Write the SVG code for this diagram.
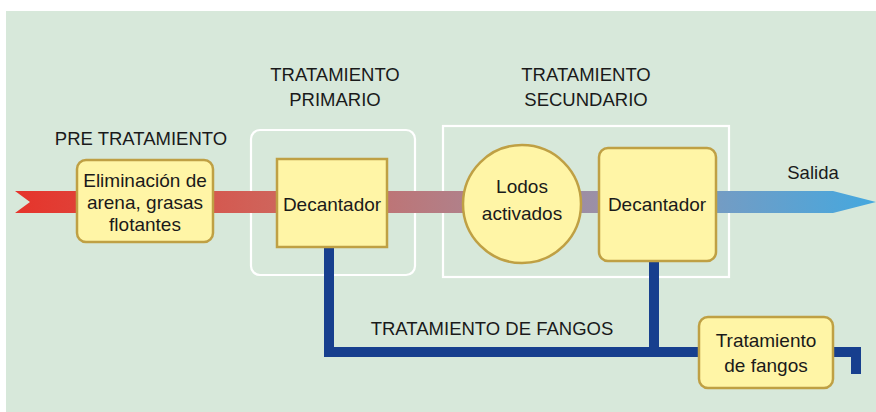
<svg xmlns="http://www.w3.org/2000/svg" width="876" height="412" viewBox="0 0 876 412">
<defs>
<linearGradient id="flow" x1="15" y1="0" x2="876" y2="0" gradientUnits="userSpaceOnUse">
<stop offset="0" stop-color="#e6342b"/>
<stop offset="0.3" stop-color="#cf645b"/>
<stop offset="0.52" stop-color="#b18089"/>
<stop offset="0.68" stop-color="#9a90a8"/>
<stop offset="0.83" stop-color="#709dc6"/>
<stop offset="1" stop-color="#44a8df"/>
</linearGradient>
<style>
.box{fill:#fff5a6;stroke:#bfa044;stroke-width:2.5}
.frame{fill:none;stroke:#ffffff;stroke-width:2.2}
.pipe{fill:none;stroke:#173f8e;stroke-width:10;stroke-linejoin:miter}
.t{font-family:"Liberation Sans",Arial,sans-serif;font-size:18.5px;fill:#1a1a1a;text-anchor:middle}
.n{font-family:"Liberation Sans",Arial,sans-serif;font-size:19px;fill:#1a1a1a;text-anchor:middle}
</style>
</defs>
<rect x="0" y="0" width="876" height="412" fill="#ffffff"/>
<rect x="6" y="11" width="870" height="401" fill="#d7e8da"/>

<g id="frames">
<rect id="frame-primario" class="frame" x="251" y="130" width="164" height="145" rx="9"/>
<rect id="frame-secundario" class="frame" x="443" y="126" width="286" height="151"/>
</g>

<g id="connectors">
<path id="flow-arrow" d="M15 191 H833 L876 202 L833 213 H15 L30 202 Z" fill="url(#flow)"/>
<path class="pipe" d="M329 247 V352 H700"/>
<path class="pipe" d="M654 261 V352"/>
<path class="pipe" d="M833 352 H856 V374"/>
</g>

<g id="labels">
<text class="t" x="141" y="145">PRE TRATAMIENTO</text>
<text class="t" x="335" y="81">TRATAMIENTO</text>
<text class="t" x="335" y="106">PRIMARIO</text>
<text class="t" x="586" y="81">TRATAMIENTO</text>
<text class="t" x="586" y="106">SECUNDARIO</text>
<text class="t" x="813" y="179">Salida</text>
<text class="t" x="492" y="335">TRATAMIENTO DE FANGOS</text>
</g>

<g id="node-eliminacion">
<rect class="box" x="77" y="160" width="136" height="82" rx="9"/>
<text class="n" x="145" y="187">Eliminación de</text>
<text class="n" x="145" y="209">arena, grasas</text>
<text class="n" x="145" y="231">flotantes</text>
</g>

<g id="node-decantador1">
<rect class="box" x="277" y="159" width="110" height="88"/>
<text class="n" x="332" y="211">Decantador</text>
</g>

<g id="node-lodos">
<circle class="box" cx="522" cy="204" r="59"/>
<text class="n" x="522" y="193">Lodos</text>
<text class="n" x="522" y="220">activados</text>
</g>

<g id="node-decantador2">
<rect class="box" x="599" y="148" width="117" height="113" rx="9"/>
<text class="n" x="657" y="211">Decantador</text>
</g>

<g id="node-fangos">
<rect class="box" x="699" y="317" width="134" height="71" rx="9"/>
<text class="n" x="766" y="347">Tratamiento</text>
<text class="n" x="766" y="372">de fangos</text>
</g>
</svg>
